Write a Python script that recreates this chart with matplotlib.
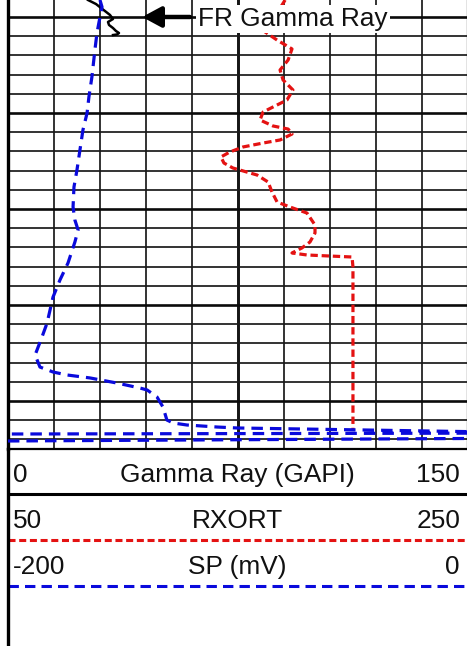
import matplotlib
matplotlib.use("Agg")
import matplotlib.pyplot as plt
from matplotlib.ticker import MultipleLocator

plt.rcParams['font.family'] = ['Liberation Sans', 'DejaVu Sans']

# ---------------- data ----------------
# Gamma ray (GAPI, scale 0-150), only the top piece is logged
gr_depth = [4998.23, 4998.65, 4999.06, 4999.38, 4999.79, 5000.21, 5000.52,
            5000.83, 5001.15, 5001.46, 5001.67, 5001.82, 5001.88]
gr_value = [26.25, 28.86, 30.49, 31.79, 33.42, 34.40, 32.77,
            33.10, 34.40, 35.38, 36.35, 35.71, 34.40]

# RXORT (scale 50-250)
rx_depth = [4998.23, 4999.79, 5001.56, 5002.40, 5003.33, 5004.48, 5005.52,
            5006.56, 5007.60, 5008.65, 5009.38, 5009.90, 5010.73, 5011.35,
            5011.67, 5012.19, 5012.81, 5013.13, 5013.54, 5014.06, 5014.58,
            5015.21, 5015.73, 5016.46, 5017.19, 5018.23, 5019.27, 5019.79,
            5020.42, 5021.67, 5022.50, 5023.44, 5024.06, 5024.58, 5024.79,
            5024.90, 5025.00, 5026.04, 5043.02]
rx_value = [170.7, 166.7, 162.0, 167.2, 173.7, 172.0, 168.5,
            169.8, 174.1, 171.5, 165.4, 161.1, 159.8, 165.4,
            172.0, 173.7, 168.5, 161.1, 152.4, 146.7, 142.8,
            144.1, 148.0, 158.5, 163.3, 165.0, 167.2, 172.8,
            180.2, 183.7, 183.7, 181.5, 178.0, 173.7, 180.2,
            190.2, 199.8, 200.2, 200.2]

# SP (mV, scale -200 to 0)
sp_depth = [4998.23, 4998.96, 5000.52, 5001.67, 5003.44, 5006.25, 5008.33,
            5010.00, 5011.77, 5013.85, 5015.94, 5017.71, 5019.79, 5021.15,
            5022.19, 5023.44, 5025.63, 5027.40, 5029.17, 5030.52, 5031.88,
            5033.33, 5035.21, 5036.46, 5036.98, 5037.29, 5037.60, 5038.13,
            5038.65, 5038.85, 5039.58, 5040.63, 5041.98, 5042.29, 5042.50,
            5042.71, 5042.81, 5043.20, 5043.35, 5043.44, 5044.17, 5043.90]
sp_value = [-159.8, -158.9, -160.2, -161.1, -162.0, -163.3, -164.6,
            -165.4, -167.2, -168.5, -169.8, -171.1, -171.5, -170.7,
            -169.3, -170.7, -173.7, -177.2, -180.2, -181.5, -182.8,
            -185.0, -188.0, -185.9, -180.2, -174.1, -164.1, -152.4,
            -142.4, -139.3, -135.0, -132.4, -130.7, -128.0, -122.0,
            -108.9, -100.2, 3.0, 3.0, -203.0, -203.0, 3.0]

track_names = ['Gamma Ray (GAPI)', 'RXORT', 'SP (mV)']
track_min = ['0', '50', '-200']
track_max = ['150', '250', '0']
gr_range = (0, 150)
rx_range = (50, 250)
sp_range = (-200, 0)
depth_range = (5045, 4998.23)

annot_text = 'FR Gamma Ray'
annot_depth = 5000.0
annot_gr = 43.9
annot_text_gr = 62.2

RED = '#e41212'
BLUE = '#0a0adc'

# ---------------- figure ----------------
W, H = 467, 646
fig = plt.figure(figsize=(W / 100, H / 100), dpi=100)

ax = fig.add_axes([7.5 / W, 1 - 449 / H, 460 / W, 449 / H])
ax.set_xlim(*gr_range)
ax.set_ylim(*depth_range)
ax.xaxis.set_major_locator(MultipleLocator(15))
ax.yaxis.set_major_locator(MultipleLocator(10))
ax.yaxis.set_minor_locator(MultipleLocator(2))
ax.grid(which='major', axis='y', color='#0a0a0a', lw=1.9, zorder=0)
ax.grid(which='minor', axis='y', color='#1a1a1a', lw=1.25, zorder=0)
ax.grid(which='major', axis='x', color='#1a1a1a', lw=1.25, zorder=0)
ax.axvline(75, color='#000000', lw=2.0, zorder=0)
ax.tick_params(which='both', length=0, labelbottom=False, labelleft=False,
               labeltop=False, labelright=False)
ax.spines['top'].set_visible(False)
ax.spines['left'].set_linewidth(2.4)
ax.spines['bottom'].set_linewidth(1.6)
ax.spines['right'].set_linewidth(1.6)

ax.plot(gr_value, gr_depth, color='black', lw=1.8, zorder=3)

ax_r = ax.twiny()
ax_r.set_xlim(*rx_range)
ax_s = ax.twiny()
ax_s.set_xlim(*sp_range)
for a in (ax_r, ax_s):
    a.set_ylim(*depth_range)
    a.axis('off')

ax_r.plot(rx_value, rx_depth, color=RED, lw=2.3, dashes=(2.3, 1.2))
ax_s.plot(sp_value, sp_depth, color=BLUE, lw=2.3, dashes=(3.6, 2.2))

# annotation arrow + label
ax_s.annotate('', xy=(annot_gr, annot_depth), xycoords=ax.transData,
              xytext=(59.5, annot_depth), textcoords=ax.transData,
              arrowprops=dict(arrowstyle='-|>,head_length=1.15,head_width=0.62',
                              mutation_scale=10, color='black', lw=3.2,
                              shrinkA=0, shrinkB=0))
ax_s.text(annot_text_gr, 5000.94, annot_text, transform=ax.transData,
          ha='left', va='baseline', fontsize=18.9, color='#111111',
          bbox=dict(facecolor='white', edgecolor='none', pad=1.5), zorder=5)

# ---------------- header ----------------
hax = fig.add_axes([7.5 / W, 0, 460 / W, 197 / H])
hax.set_xlim(0, 460)
hax.set_ylim(646, 449)
hax.set_xticks([]); hax.set_yticks([])
hax.patch.set_alpha(0)
hax.spines['top'].set_visible(False)
hax.spines['bottom'].set_visible(False)
hax.spines['right'].set_visible(False)
hax.spines['left'].set_linewidth(2.4)

row_base = [482, 528, 574]
for i in range(3):
    hax.text(5.5, row_base[i], track_min[i], ha='left', va='baseline',
             fontsize=18.9, color='#111111')
    hax.text(230, row_base[i], track_names[i], ha='center', va='baseline',
             fontsize=18.9, color='#111111')
    hax.text(452.5, row_base[i], track_max[i], ha='right', va='baseline',
             fontsize=18.9, color='#111111')

hax.plot([0, 460], [494, 494], color='black', lw=2.2)
hax.plot([0, 460], [540, 540], color=RED, lw=2.2, dashes=(2.3, 1.2))
hax.plot([0, 460], [586.5, 586.5], color=BLUE, lw=2.2, dashes=(3.4, 2.0))

fig.savefig('out.png', dpi=100)
